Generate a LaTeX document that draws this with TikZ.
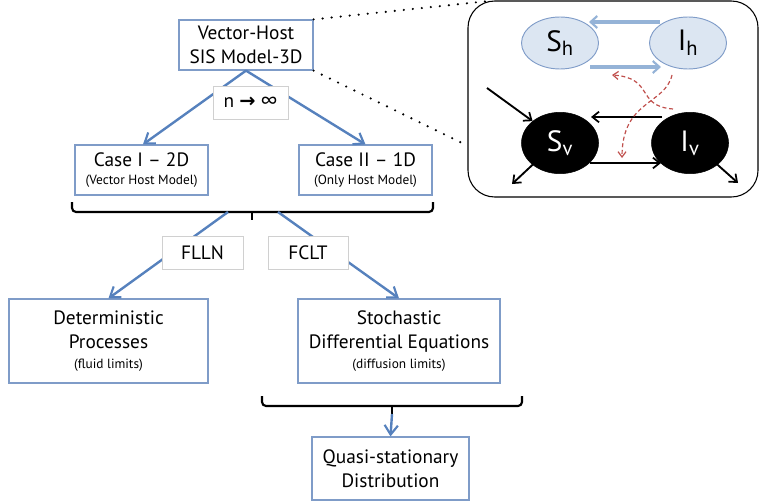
\documentclass[tikz,border=0pt]{standalone}
\usepackage{fontspec}
\setmainfont{PT Sans}
\newfontfamily\dejavu{DejaVu Sans}
\usetikzlibrary{arrows.meta,shapes.geometric,calc}
\definecolor{boxblue}{HTML}{7F9CC8}
\definecolor{lineblue}{HTML}{5681BD}
\definecolor{lightline}{HTML}{95B3D7}
\definecolor{hostfill}{HTML}{DCE6F2}
\definecolor{grayline}{HTML}{D0D0D0}
\definecolor{redd}{HTML}{C0504D}
\tikzset{
  x=0.75pt, y=-0.75pt,
  bx/.style={draw=boxblue, line width=0.9pt, fill=white, align=center, inner sep=0pt, font=\fontsize{14.5}{18}\selectfont},
  lbl/.style={draw=grayline, line width=0.6pt, fill=white, align=center, inner sep=0pt, font=\fontsize{14.5}{16}\selectfont},
  arr/.style={draw=lineblue, line width=1.8pt, -{Straight Barb[length=7pt,width=10pt,line width=1.6pt]}},
  brc/.style={draw=black, line width=1.6pt, rounded corners=3pt},
  dots/.style={draw=black, line width=1.8pt, line cap=round, dash pattern=on 0pt off 6.8pt},
  host/.style={ellipse, draw=boxblue, line width=0.7pt, fill=hostfill, minimum width=57.75pt, minimum height=39pt, inner sep=0pt, font=\fontsize{22}{24}\selectfont},
  vect/.style={ellipse, draw=black, fill=black, text=white, minimum width=57.75pt, minimum height=46pt, inner sep=0pt, font=\fontsize{22}{24}\selectfont},
  harr/.style={draw=lightline, line width=2.4pt, -{Straight Barb[length=5pt,width=9pt,line width=1.6pt]}},
  varr/.style={draw=black, line width=1.4pt, -{Straight Barb[length=5pt,width=8pt,line width=1.3pt]}},
  rarr/.style={draw=redd, line width=0.9pt, dash pattern=on 3pt off 2pt, -{Straight Barb[length=4pt,width=6pt,line width=0.9pt]}}
}
\newcommand\smalltxt{\fontsize{10}{11}\selectfont}
\begin{document}
\begin{tikzpicture}
\useasboundingbox (0,0) rectangle (762,503);
% right panel
\draw[line width=0.8pt, rounded corners=20pt] (468,1) rectangle (758,197);
\node[host] (Sh) at (560,43) {S\textsubscript{h}};
\node[host] (Ih) at (688,43) {I\textsubscript{h}};
\node[vect] (Sv) at (560,143) {S\textsubscript{v}};
\node[vect] (Iv) at (690,143) {I\textsubscript{v}};
\coordinate (a1) at (660,22); \coordinate (a2) at (589,22);
\coordinate (b1) at (590,67); \coordinate (b2) at (661,67);
\coordinate (c1) at (662,117); \coordinate (c2) at (591,117);
\coordinate (d1) at (590,163); \coordinate (d2) at (661,163);
\draw[harr] (a1) -- (a2);
\draw[harr] (b1) -- (b2);
\draw[varr] (c1) -- (c2);
\draw[varr] (d1) -- (d2);
\coordinate (inS) at (487,88);
\coordinate (outS) at (512,184);
\coordinate (outI) at (738,183);
\draw[varr] (inS) -- (Sv.north west);
\draw[varr] ($(Sv.south west)+(2,-2)$) -- (outS);
\draw[varr] ($(Iv.south east)+(-2,-2)$) -- (outI);
\coordinate (r1) at (672,75); \coordinate (r2) at (622,158);
\coordinate (r3) at (673,109); \coordinate (r4) at (612,75);
\draw[rarr] (r1) .. controls (665,105) and (622,100) .. (r2);
\draw[rarr] (r3) .. controls (635,106) and (655,78) .. (r4);
% top box and dotted lines
\node[bx, minimum width=100.5pt, minimum height=37.5pt] (top) at (246,45) {Vector-Host\\SIS Model-3D};
\coordinate (p1) at (489,1);
\coordinate (p2) at (462,143);
\draw[dots] (top.north east) -- (p1);
\draw[dots] (top.south east) -- (p2);
% case boxes
\node[bx, minimum width=99.75pt, minimum height=37.5pt] (c1b) at (141.5,170) {Case I -- 2D\\[-5pt]{\smalltxt (Vector Host Model)}};
\node[bx, minimum width=99.75pt, minimum height=37.5pt] (c2b) at (365.5,170) {Case II -- 1D\\[-5pt]{\smalltxt (Only Host Model)}};
\draw[arr] (top.south) -- ($(c1b.north)+(1.5,0)$);
\draw[arr] (top.south) -- (c2b.north);
\node[lbl, minimum width=56.25pt, minimum height=24.75pt] (ninf) at (250.5,102.5) {n {\dejavu\bfseries →} ∞};
% brace 1
\draw[brc] (72,202) -- (72,212) -- (433,212) -- (433,202);
\draw[line width=1.6pt] (252,212) -- (252,220);
\coordinate (bl) at (228,212);
\coordinate (br) at (278,212);
\node[bx, minimum width=149.25pt, minimum height=63pt] (det) at (108.5,341) {Deterministic\\Processes\\[-3pt]{\smalltxt (fluid limits)}};
\node[bx, minimum width=151.5pt, minimum height=63pt] (sto) at (399,341) {Stochastic\\Differential Equations\\[-3pt]{\smalltxt (diffusion limits)}};
\draw[arr] (bl) -- (det.north);
\draw[arr] (br) -- (sto.north);
\node[lbl, minimum width=60.75pt, minimum height=24.75pt] (flln) at (202.5,252.5) {FLLN};
\node[lbl, minimum width=60pt, minimum height=24.75pt] (fclt) at (308,252.5) {FCLT};
% brace 2
\draw[brc] (262,396) -- (262,406) -- (522,406) -- (522,396);
\draw[line width=1.6pt] (392,406) -- (392,414) coordinate (bt);
\node[bx, minimum width=117.75pt, minimum height=47.25pt] (qsd) at (390.5,468.5) {Quasi-stationary\\Distribution};
\draw[arr] (bt) -- (qsd.north);
\end{tikzpicture}
\end{document}
